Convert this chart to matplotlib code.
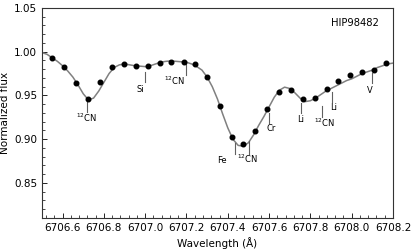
import numpy as np
import matplotlib.pyplot as plt
from matplotlib.ticker import AutoMinorLocator

# --------------------
# Data
# --------------------
obs_wave = [6706.547, 6706.608, 6706.667, 6706.724, 6706.781, 6706.839, 6706.896,
            6706.954, 6707.012, 6707.071, 6707.127, 6707.186, 6707.243, 6707.301,
            6707.361, 6707.418, 6707.473, 6707.531, 6707.589, 6707.648, 6707.706,
            6707.765, 6707.823, 6707.878, 6707.935, 6707.993, 6708.052, 6708.108,
            6708.168]
obs_flux = [0.993, 0.983, 0.964, 0.946, 0.965, 0.982, 0.986,
            0.984, 0.984, 0.987, 0.988, 0.988, 0.986, 0.971,
            0.938, 0.902, 0.894, 0.909, 0.934, 0.954, 0.956,
            0.946, 0.947, 0.957, 0.966, 0.973, 0.977, 0.979,
            0.987]

syn_wave = np.arange(6706.5, 6708.2001, 0.025)
syn_flux = [0.999, 0.997, 0.993, 0.989, 0.984, 0.978, 0.971, 0.962, 0.952, 0.945,
            0.947, 0.955, 0.965, 0.975, 0.982, 0.985, 0.986, 0.985, 0.984, 0.9835,
            0.983, 0.984, 0.986, 0.988, 0.989, 0.9895, 0.989, 0.9885, 0.988, 0.986,
            0.983, 0.979, 0.971, 0.960, 0.946, 0.929, 0.913, 0.900, 0.893, 0.892,
            0.896, 0.905, 0.916, 0.926, 0.937, 0.948, 0.956, 0.9595, 0.958, 0.953,
            0.947, 0.943, 0.944, 0.947, 0.951, 0.955, 0.958, 0.961, 0.964, 0.967,
            0.969, 0.972, 0.975, 0.977, 0.979, 0.982, 0.984, 0.986, 0.987]

line_names = ["$^{12}$CN", "Si", "$^{12}$CN", "Fe", "$^{12}$CN", "Cr",
              "Li", "$^{12}$CN", "Li", "V"]
line_wave = [6706.717, 6706.998, 6707.200, 6707.435, 6707.503, 6707.601,
             6707.755, 6707.856, 6707.904, 6708.100]

# tick top, tick bottom, label x, label y
line_layout = [(0.9428, 0.9313, 6706.717, 0.924),
               (0.9771, 0.9657, 6706.977, 0.957),
               (0.9867, 0.9733, 6707.142, 0.967),
               (0.8952, 0.8826, 6707.374, 0.876),
               (0.8982, 0.8837, 6707.496, 0.878),
               (0.9299, 0.9184, 6707.609, 0.912),
               (0.9416, 0.9295, 6707.755, 0.923),
               (0.9379, 0.9256, 6707.868, 0.919),
               (0.9542, 0.9428, 6707.914, 0.936),
               (0.9753, 0.9638, 6708.087, 0.956)]

# --------------------
# Plot
# --------------------
fig = plt.figure(figsize=(4.15, 2.49), dpi=100)
ax = fig.add_axes([0.101, 0.1245, 0.846, 0.8435])

ax.plot(syn_wave, syn_flux, color='#808080', lw=1.1, zorder=2)
ax.plot(obs_wave, obs_flux, 'o', color='black', ms=3.3, zorder=3)

for name, w, (top, bot, lx, ly) in zip(line_names, line_wave, line_layout):
    ax.plot([w, w], [bot, top], color='#606060', lw=0.8)
    ax.text(lx, ly, name, fontsize=6, ha='center', va='center')

ax.text(0.96, 0.929, "HIP98482", transform=ax.transAxes, fontsize=7.2,
        ha='right', va='center')

ax.set_xlim(6706.5, 6708.2)
ax.set_ylim(0.81, 1.05)
ax.set_xticks(np.arange(6706.6, 6708.21, 0.2))
ax.set_yticks([0.85, 0.90, 0.95, 1.00, 1.05])
ax.xaxis.set_minor_locator(AutoMinorLocator(5))
ax.yaxis.set_minor_locator(AutoMinorLocator(5))
ax.tick_params(which='both', direction='in', labelsize=7.5)
ax.tick_params(which='major', length=3.5, width=0.6)
ax.tick_params(which='minor', length=2, width=0.5)
ax.xaxis.set_major_formatter(plt.FuncFormatter(lambda v, p: "%.1f" % v))
ax.yaxis.set_major_formatter(plt.FuncFormatter(lambda v, p: "%.2f" % v))
for s in ax.spines.values():
    s.set_linewidth(0.8)
    s.set_color('#333333')

ax.set_xlabel("Wavelength (Å)", fontsize=7.5, labelpad=3)
ax.set_ylabel("Normalized flux", fontsize=7.5, labelpad=3)

plt.savefig("out.png")
